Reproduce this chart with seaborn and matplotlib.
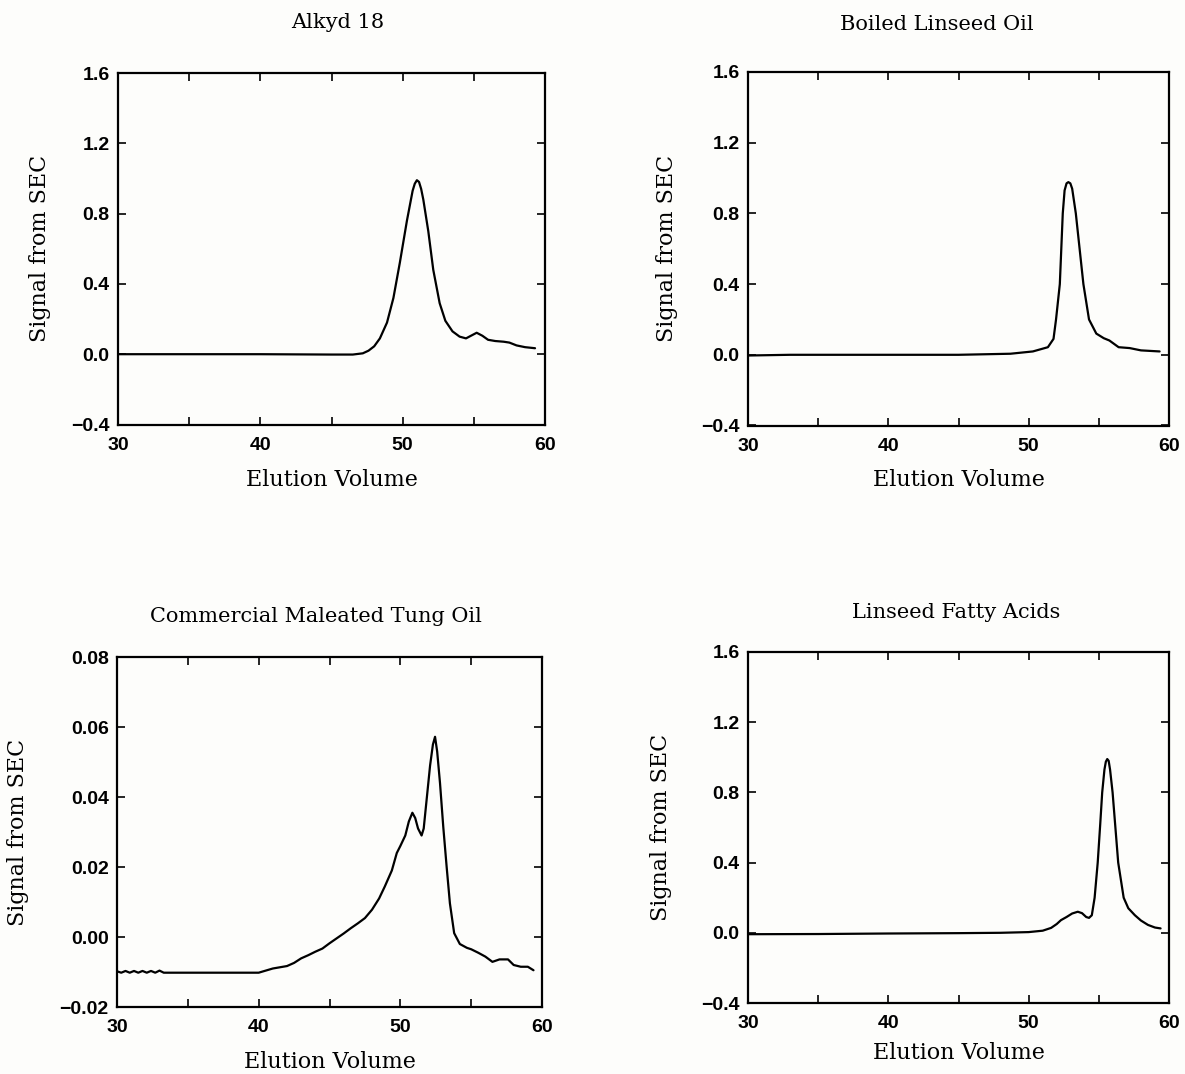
import numpy as np
import pandas as pd
import matplotlib
matplotlib.use("Agg")
import matplotlib.pyplot as plt
from matplotlib.ticker import MultipleLocator, FixedLocator
import seaborn as sns

# values
alkyd_x = [30, 35, 40, 45, 46.5, 47.2, 47.6, 48.0, 48.4, 48.9, 49.35, 49.8, 50.3, 50.7, 50.85,
           51.0, 51.15, 51.3, 51.45, 51.8, 52.15, 52.6, 53.0, 53.5, 54.0, 54.45, 54.8, 55.2, 55.6,
           56.0, 56.5, 57.1, 57.5, 58.0, 58.6, 59.3]
alkyd_y = [0.0, 0.0, 0.0, -0.002, -0.002, 0.005, 0.02, 0.045, 0.09, 0.18, 0.32, 0.52, 0.76, 0.93, 0.97,
           0.99, 0.98, 0.94, 0.88, 0.7, 0.48, 0.29, 0.19, 0.13, 0.1, 0.09, 0.105, 0.122, 0.105,
           0.082, 0.075, 0.071, 0.066, 0.05, 0.04, 0.034]

boiled_x = [30, 33, 40, 45, 48.7, 50.3, 51.37, 51.77, 51.95, 52.22, 52.43, 52.56, 52.7, 52.83, 52.97,
            53.1, 53.36, 53.63, 53.9, 54.3, 54.82, 55.35, 55.75, 56.41, 57.2, 58.0, 59.33]
boiled_y = [-0.004, 0.0, 0.0, 0.0, 0.006, 0.019, 0.043, 0.09, 0.2, 0.4, 0.8, 0.93, 0.97, 0.977, 0.97,
            0.94, 0.8, 0.6, 0.4, 0.2, 0.12, 0.094, 0.081, 0.043, 0.038, 0.025, 0.019]

tung_x = [30, 30.3, 30.6, 30.9, 31.2, 31.5, 31.8, 32.1, 32.4, 32.7, 33.0, 33.3, 36, 40, 41, 42,
          42.5, 43, 43.5, 44, 44.5, 45, 45.5, 46, 46.5, 47, 47.5, 48, 48.5, 48.9, 49.4, 49.75,
          50.0, 50.35, 50.6, 50.85, 51.05, 51.25, 51.5, 51.65, 51.85, 52.1, 52.3, 52.45, 52.6,
          52.8, 53.03, 53.27, 53.5, 53.8, 54.2, 54.7, 55.0, 55.5, 56.0, 56.5, 57.0, 57.6, 58.0,
          58.5, 59.0, 59.4]
tung_y = [-0.0098, -0.0102, -0.0097, -0.0102, -0.0097, -0.0102, -0.0097, -0.0102, -0.0097,
          -0.0102, -0.0096, -0.0102, -0.0102, -0.0102, -0.009, -0.0083, -0.0074, -0.0061,
          -0.0052, -0.0042, -0.0033, -0.0018, -0.0004, 0.001, 0.0025, 0.0039, 0.0054, 0.0078,
          0.011, 0.0144, 0.019, 0.024, 0.026, 0.029, 0.033, 0.0355, 0.034, 0.031, 0.029, 0.031,
          0.039, 0.049, 0.055, 0.0572, 0.053, 0.044, 0.0315, 0.020, 0.0096, 0.0011, -0.002,
          -0.0031, -0.0035, -0.0045, -0.0056, -0.0071, -0.0064, -0.0064, -0.008, -0.0085,
          -0.0085, -0.0095]

fatty_x = [30, 35, 40, 45, 48, 50, 51, 51.6, 52.0, 52.3, 52.7, 53.1, 53.5, 53.8, 54.1, 54.3, 54.5,
           54.7, 54.92, 55.1, 55.24, 55.4, 55.5, 55.6, 55.7, 55.8, 55.98, 56.2, 56.38, 56.77, 57.1,
           57.57, 58.0, 58.5, 59.0, 59.4]
fatty_y = [-0.008, -0.007, -0.004, -0.002, 0.0, 0.004, 0.012, 0.028, 0.05, 0.072, 0.09, 0.11, 0.12,
           0.112, 0.09, 0.085, 0.1, 0.2, 0.4, 0.62, 0.8, 0.93, 0.975, 0.99, 0.98, 0.93, 0.8, 0.58,
           0.4, 0.2, 0.14, 0.1, 0.07, 0.045, 0.03, 0.025]

titles = ["Alkyd 18", "Boiled Linseed Oil", "Commercial Maleated Tung Oil", "Linseed Fatty Acids"]
x_ticks = [30, 40, 50, 60]
big_yticks = [-0.4, 0.0, 0.4, 0.8, 1.2, 1.6]
small_yticks = [-0.02, 0.00, 0.02, 0.04, 0.06, 0.08]

sns.set_theme(style="ticks")
plt.rcParams["font.family"] = ["DejaVu Serif", "DejaVu Sans"]
plt.rcParams["text.color"] = "black"
plt.rcParams["axes.labelcolor"] = "black"
plt.rcParams["xtick.color"] = "black"
plt.rcParams["ytick.color"] = "black"

fig = plt.figure(figsize=(11.85, 10.74), dpi=100, facecolor="#fdfdfb")

# axes boxes in pixels: left, right, top, bottom
boxes = [(118, 545, 73, 424.5), (748, 1169, 72, 425.5), (117, 542, 657, 1007), (748, 1169, 652, 1003)]
title_pos = [(0.515, 51), (0.449, 47), (0.468, 40), (0.494, 39)]
ylab_off = [78, 81, 99, 87]
xlab_off = [56, 55, 55, 50]

series = [(alkyd_x, alkyd_y, big_yticks, "{:.1f}"),
          (boiled_x, boiled_y, big_yticks, "{:.1f}"),
          (tung_x, tung_y, small_yticks, "{:.2f}"),
          (fatty_x, fatty_y, big_yticks, "{:.1f}")]

W, H = 1185, 1074
for i, (xs, ys, yt, fmt) in enumerate(series):
    l, r, t, b = boxes[i]
    ax = fig.add_axes([l / W, 1 - b / H, (r - l) / W, (b - t) / H])
    ax.set_facecolor("#fdfdfb")
    df = pd.DataFrame({"Elution Volume": xs, "Signal": ys})
    sns.lineplot(data=df, x="Elution Volume", y="Signal", ax=ax, color="black",
                 linewidth=1.6, estimator=None, sort=False)

    ax.set_xlim(30, 60)
    ax.set_ylim(yt[0], yt[-1])
    ax.xaxis.set_major_locator(FixedLocator(x_ticks))
    ax.xaxis.set_minor_locator(MultipleLocator(5))
    ax.set_yticks(yt)
    ax.set_xticklabels([str(v) for v in x_ticks], fontfamily="Liberation Sans",
                       fontweight="bold", fontsize=14)
    ax.set_yticklabels([fmt.format(v).replace("-", "\u2212") for v in yt],
                       fontfamily="Liberation Sans", fontweight="bold", fontsize=14)
    ax.tick_params(which="both", direction="in", length=6, width=1.2, color="black",
                   top=True, right=True)
    ax.tick_params(axis="x", which="major", pad=9)
    ax.tick_params(axis="y", which="major", pad=6)
    for sp in ax.spines.values():
        sp.set_linewidth(1.6)
        sp.set_color("black")

    h = b - t
    w = r - l
    ax.set_xlabel("Elution Volume", fontsize=16)
    ax.xaxis.set_label_coords(0.5, -xlab_off[i] / h)
    ax.xaxis.label.set_va("center")
    ax.set_ylabel("Signal from SEC", fontsize=16)
    ax.yaxis.set_label_coords(-ylab_off[i] / w, 0.5)
    ax.yaxis.label.set_va("center")

    tx, ty = title_pos[i]
    ax.text(tx, 1 + ty / h, titles[i], transform=ax.transAxes, ha="center", va="center",
            fontsize=15)

fig.savefig("out.png", dpi=100, facecolor=fig.get_facecolor())
